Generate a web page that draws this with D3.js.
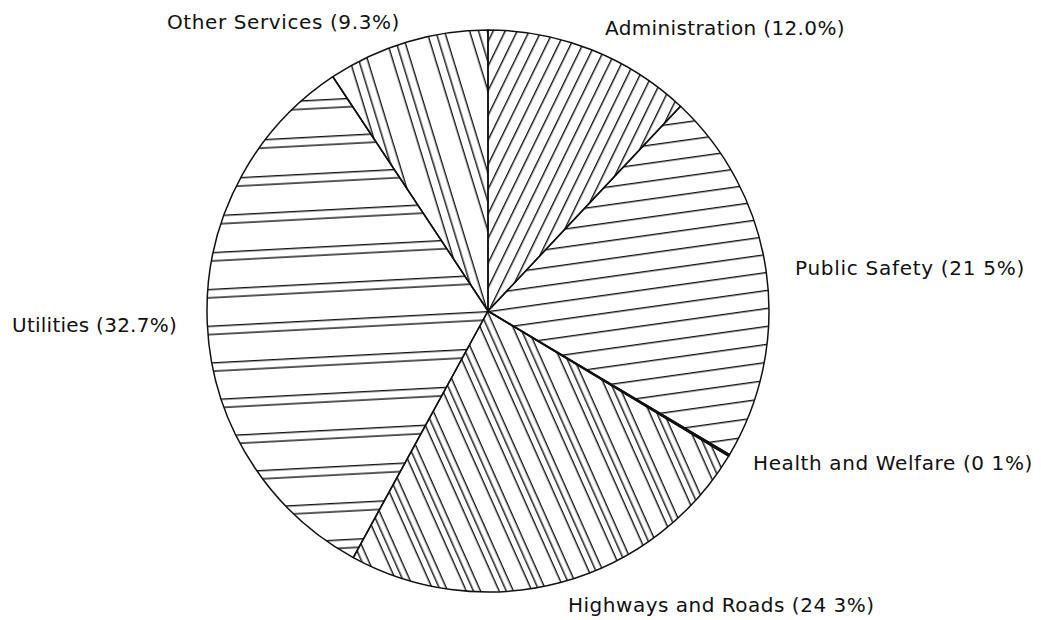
<!DOCTYPE html>
<html>
<head>
<meta charset="utf-8">
<script src="https://cdn.jsdelivr.net/npm/d3@7"></script>
<style>
html,body{margin:0;padding:0;background:#fff;}
text{font-family:"DejaVu Sans",sans-serif;fill:#111;}
</style>
</head>
<body>
<svg id="chart" width="1041" height="620"></svg>
<script>
// ---- data ----
const categories = ["Administration","Public Safety","Health and Welfare","Highways and Roads","Utilities","Other Services"];
const values = [12.0, 21.5, 0.1, 24.3, 32.7, 9.3];
const labels = ["Administration (12.0%)","Public Safety (21 5%)","Health and Welfare (0 1%)","Highways and Roads (24 3%)","Utilities (32.7%)","Other Services (9.3%)"];

// ---- hatch styles (angle deg, period px, line offsets) ----
const hatchAngle  = [-64, -8, 0, 66, -3, 73];
const hatchPeriod = [10.8, 17.8, 10, 30, 36.7, 41];
const hatchOffsets = [[0],[0],[0],[0,6.5,13],[0,8.3],[0,8.5,17]];

// label placement: [left x, baseline y, target width (0 = natural)]
const labelPos = [[605,35,240],[795,274.5,230],[753,469.5,280],[568,611.5,0],[12,331.5,165],[167,29,233]];

const svg = d3.select("#chart");
const cx = 488, cy = 311, R = 281;

const defs = svg.append("defs");
categories.forEach((c,i)=>{
  const p = defs.append("pattern")
    .attr("id","h"+i)
    .attr("patternUnits","userSpaceOnUse")
    .attr("width",20).attr("height",hatchPeriod[i])
    .attr("patternTransform",`rotate(${hatchAngle[i]})`);
  hatchOffsets[i].forEach(o=>{
    p.append("line").attr("x1",-1).attr("x2",21)
      .attr("y1",o+0.7).attr("y2",o+0.7)
      .attr("stroke","#111").attr("stroke-width",1.4);
  });
});

const pie = d3.pie().sort(null).value(d=>d)(values);
const arc = d3.arc().innerRadius(0).outerRadius(R);

const g = svg.append("g").attr("transform",`translate(${cx},${cy})`);
g.selectAll("path.slice").data(pie).join("path")
  .attr("class","slice")
  .attr("d",arc)
  .attr("fill",(d,i)=> i===2 ? "#111" : `url(#h${i})`)
  .attr("stroke","#111")
  .attr("stroke-width",1.5)
  .attr("stroke-linejoin","round");

const texts = svg.selectAll("text.lbl").data(labels).join("text")
  .attr("class","lbl")
  .attr("x",(d,i)=>labelPos[i][0])
  .attr("y",(d,i)=>labelPos[i][1])
  .attr("font-size",20)
  .text(d=>d);

// letter spacing to fit measured widths; labels without a width use the mean spacing
const spacings = [];
texts.each(function(d,i){
  const w = labelPos[i][2];
  if (w > 0) {
    const nat = this.getComputedTextLength();
    const ls = (w - nat) / d.length;
    spacings[i] = ls;
  }
});
const known = spacings.filter(v=>v!==undefined);
const meanLs = d3.mean(known);
texts.attr("letter-spacing",(d,i)=> (spacings[i]!==undefined ? spacings[i] : meanLs) + "px");
</script>
</body>
</html>
